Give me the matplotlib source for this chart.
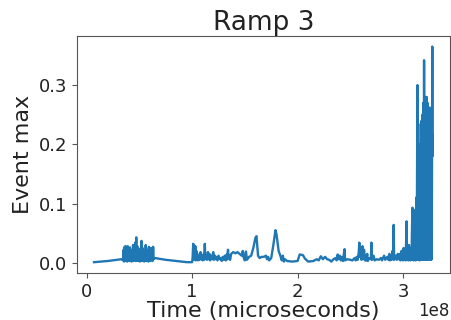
import numpy as np
import matplotlib
matplotlib.use("Agg")
import matplotlib.pyplot as plt
from matplotlib.transforms import ScaledTranslation

# time in units of 1e8 microseconds, event max per sample
time_1e8 = [
    0.07, 0.2, 0.33,
    0.345, 0.35, 0.355, 0.36, 0.365, 0.37, 0.375, 0.38, 0.385, 0.39, 0.395, 0.40,
    0.405, 0.41, 0.415, 0.42, 0.425, 0.43, 0.435, 0.44, 0.445, 0.45, 0.455, 0.46,
    0.465, 0.47, 0.475, 0.48, 0.485, 0.49, 0.495, 0.50, 0.505, 0.51, 0.515, 0.52,
    0.525, 0.53, 0.535, 0.54, 0.545, 0.55, 0.555, 0.56, 0.565, 0.57, 0.575, 0.58,
    0.585, 0.59, 0.595, 0.60, 0.605, 0.61, 0.615, 0.62, 0.625, 0.63, 0.635, 0.65,
    0.68, 0.75, 0.85, 0.95, 1.0,
    1.005, 1.01, 1.015, 1.02, 1.025, 1.03, 1.035, 1.04, 1.045, 1.05, 1.055, 1.06,
    1.07, 1.08, 1.085, 1.09, 1.1, 1.11, 1.115, 1.12, 1.125, 1.13, 1.14, 1.15,
    1.155, 1.165, 1.17, 1.18, 1.19, 1.2, 1.205, 1.215, 1.22, 1.23, 1.24, 1.25,
    1.26, 1.27, 1.28, 1.29, 1.3, 1.31, 1.32, 1.33, 1.335, 1.34, 1.345, 1.35,
    1.36, 1.37, 1.39, 1.41, 1.43, 1.45, 1.47, 1.48, 1.49, 1.5, 1.51, 1.52,
    1.54, 1.56, 1.58, 1.6, 1.61, 1.625, 1.64, 1.66, 1.68, 1.7, 1.71, 1.72,
    1.73, 1.75, 1.77, 1.79, 1.8, 1.82, 1.84, 1.85, 1.86, 1.87, 1.88, 1.9,
    1.95, 2.0, 2.02, 2.05, 2.07, 2.1, 2.15, 2.18, 2.2, 2.22, 2.24, 2.26,
    2.28, 2.3, 2.32, 2.34, 2.36, 2.37, 2.38, 2.39, 2.4, 2.41, 2.42, 2.43,
    2.445, 2.45, 2.47, 2.5, 2.52, 2.54, 2.55, 2.56, 2.57, 2.58, 2.585, 2.59,
    2.6, 2.605, 2.615, 2.62, 2.63, 2.64, 2.645, 2.65, 2.66, 2.665, 2.68, 2.695,
    2.7, 2.705, 2.72, 2.73, 2.75, 2.77, 2.79, 2.8, 2.82, 2.83, 2.85, 2.86,
    2.87, 2.875, 2.88, 2.89, 2.9, 2.905, 2.911, 2.915, 2.93, 2.94, 2.95,
    2.96, 2.97, 2.975, 2.985, 2.99, 2.995, 3.0, 3.005, 3.01, 3.02, 3.025, 3.033,
    3.038, 3.045, 3.05, 3.056, 3.06, 3.066, 3.07, 3.076, 3.08, 3.085, 3.089, 3.093,
    3.098, 3.102, 3.107, 3.111, 3.116, 3.12, 3.125, 3.129, 3.136, 3.14, 3.144, 3.148,
    3.152, 3.156, 3.16, 3.164, 3.168, 3.172, 3.176, 3.18, 3.184, 3.188, 3.192, 3.196,
    3.199, 3.203, 3.207, 3.211, 3.215, 3.219, 3.224, 3.228, 3.232, 3.236, 3.24, 3.244,
    3.248, 3.252, 3.256, 3.26, 3.264, 3.268, 3.272, 3.277, 3.279, 3.281,
]

event_max = [
    0.001, 0.003, 0.006,
    0.004, 0.022, 0.002, 0.027, 0.005, 0.028, 0.003, 0.025, 0.002, 0.028, 0.004, 0.020,
    0.003, 0.026, 0.005, 0.018, 0.002, 0.022, 0.004, 0.030, 0.003, 0.025, 0.006, 0.034,
    0.003, 0.043, 0.004, 0.028, 0.003, 0.020, 0.005, 0.018, 0.002, 0.024, 0.004, 0.037,
    0.003, 0.025, 0.005, 0.020, 0.002, 0.015, 0.004, 0.030, 0.003, 0.022, 0.005, 0.018,
    0.002, 0.027, 0.004, 0.015, 0.003, 0.025, 0.005, 0.012, 0.003, 0.027, 0.006, 0.008,
    0.007, 0.005, 0.003, 0.001, 0.001,
    0.010, 0.032, 0.005, 0.030, 0.008, 0.028, 0.004, 0.020, 0.010, 0.015, 0.004, 0.012,
    0.005, 0.018, 0.006, 0.010, 0.004, 0.015, 0.005, 0.032, 0.008, 0.010, 0.005, 0.018,
    0.006, 0.015, 0.004, 0.012, 0.006, 0.018, 0.005, 0.012, 0.006, 0.010, 0.004, 0.012,
    0.006, 0.008, 0.003, 0.010, 0.005, 0.012, 0.004, 0.015, 0.006, 0.022, 0.008, 0.012,
    0.005, 0.015, 0.018, 0.016, 0.018, 0.015, 0.012, 0.020, 0.008, 0.004, 0.019, 0.005,
    0.010, 0.012, 0.025, 0.042, 0.045, 0.012, 0.008, 0.010, 0.010, 0.012, 0.006, 0.010,
    0.004, 0.008, 0.030, 0.055, 0.048, 0.020, 0.010, 0.004, 0.012, 0.002, 0.006, 0.003,
    0.002, 0.003, 0.014, 0.013, 0.007, 0.002, 0.003, 0.006, 0.004, 0.011, 0.006, 0.010,
    0.006, 0.005, 0.002, 0.006, 0.008, 0.004, 0.014, 0.006, 0.012, 0.004, 0.010, 0.003,
    0.023, 0.004, 0.006, 0.005, 0.004, 0.008, 0.004, 0.010, 0.005, 0.018, 0.034, 0.010,
    0.025, 0.005, 0.028, 0.006, 0.022, 0.004, 0.012, 0.004, 0.015, 0.003, 0.008, 0.006,
    0.034, 0.005, 0.012, 0.004, 0.006, 0.005, 0.008, 0.004, 0.012, 0.005, 0.010, 0.005,
    0.015, 0.004, 0.010, 0.005, 0.020, 0.006, 0.064, 0.005, 0.012, 0.005, 0.015,
    0.006, 0.015, 0.004, 0.020, 0.005, 0.012, 0.004, 0.025, 0.005, 0.018, 0.004, 0.070,
    0.006, 0.015, 0.004, 0.030, 0.005, 0.020, 0.004, 0.025, 0.005, 0.062, 0.093, 0.005,
    0.090, 0.004, 0.085, 0.005, 0.080, 0.004, 0.110, 0.005, 0.300, 0.006, 0.130, 0.005,
    0.160, 0.004, 0.200, 0.005, 0.235, 0.006, 0.240, 0.005, 0.250, 0.006, 0.270, 0.005,
    0.342, 0.006, 0.270, 0.005, 0.280, 0.006, 0.280, 0.005, 0.270, 0.006, 0.260, 0.005,
    0.255, 0.262, 0.006, 0.220, 0.005, 0.220, 0.006, 0.365, 0.180, 0.217,
]

t = np.array(time_1e8) * 1e8
y = np.array(event_max)

fig = plt.figure(figsize=(4.51, 3.2), dpi=100)
ax = fig.add_axes([0.171, 0.147, 0.826, 0.741])
ax.plot(t, y, color="#1f77b4", linewidth=1.7)

text_color = "#222222"
ax.set_title("Ramp 3", fontsize=19, pad=1, color=text_color)
ax.set_xlabel("Time (microseconds)", fontsize=16, labelpad=0, color=text_color)
ax.set_ylabel("Event max", fontsize=16, color=text_color)
ax.tick_params(labelsize=13, color="#555555", labelcolor=text_color)
for spine in ax.spines.values():
    spine.set_color("#555555")
ax.set_xticks([0, 1e8, 2e8, 3e8])
ax.set_yticks([0.0, 0.1, 0.2, 0.3])

# nudge the 1e8 multiplier up a little so it stays inside the figure
offset = ax.xaxis.get_offset_text()
offset.set_fontsize(12)
offset.set_color(text_color)
offset.set_transform(offset.get_transform() + ScaledTranslation(0, 3 / 100, fig.dpi_scale_trans))

fig.savefig("out.png", dpi=100)
